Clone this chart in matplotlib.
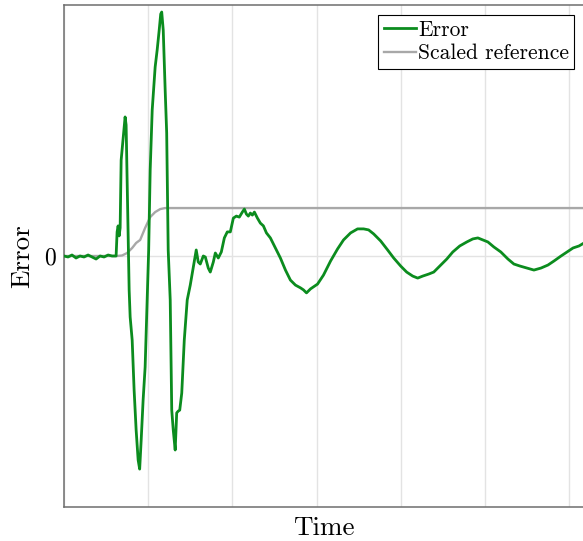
import numpy as np
import matplotlib
matplotlib.use("Agg")
import matplotlib.pyplot as plt

plt.rcParams['font.family'] = 'cmr10'
plt.rcParams['mathtext.fontset'] = 'cm'
plt.rcParams['axes.formatter.use_mathtext'] = True

# error signal, time in arbitrary units
t_err = [0.0, 0.048, 0.095, 0.143, 0.19, 0.238, 0.286, 0.333, 0.381, 0.429,
         0.476, 0.524, 0.571, 0.619, 0.631, 0.643, 0.655, 0.667, 0.679, 0.69,
         0.702, 0.726, 0.738, 0.75, 0.762, 0.774, 0.786, 0.81, 0.833, 0.857,
         0.881, 0.899, 0.917, 0.94, 0.964, 0.988, 1.006, 1.024, 1.048, 1.083,
         1.107, 1.131, 1.149, 1.161, 1.179, 1.202, 1.22, 1.238, 1.262, 1.28,
         1.298, 1.321, 1.339, 1.357, 1.375, 1.399, 1.429, 1.464, 1.5, 1.536,
         1.571, 1.595, 1.619, 1.655, 1.679, 1.714, 1.738, 1.774, 1.798, 1.833,
         1.869, 1.905, 1.94, 1.976, 2.012, 2.048, 2.083, 2.119, 2.143, 2.167,
         2.19, 2.214, 2.238, 2.262, 2.298, 2.333, 2.369, 2.405, 2.452, 2.512,
         2.571, 2.631, 2.69, 2.75, 2.81, 2.845, 2.881, 2.929, 3.012, 3.083,
         3.167, 3.25, 3.321, 3.405, 3.488, 3.56, 3.619, 3.679, 3.762, 3.845,
         3.917, 4.0, 4.071, 4.143, 4.202, 4.262, 4.333, 4.393, 4.476, 4.548,
         4.619, 4.702, 4.786, 4.857, 4.917, 4.976, 5.036, 5.107, 5.19, 5.274,
         5.345, 5.417, 5.5, 5.583, 5.667, 5.75, 5.821, 5.905, 5.976, 6.048,
         6.119, 6.179]
error = [0.0, -0.004, 0.004, -0.008, 0.0, -0.004, 0.004, -0.004, -0.012, 0.0,
         -0.004, 0.004, 0.0, 0.0, 0.096, 0.12, 0.08, 0.112, 0.382, 0.422,
         0.462, 0.554, 0.522, 0.303, 0.104, -0.135, -0.243, -0.335, -0.534, -0.693,
         -0.813, -0.849, -0.733, -0.574, -0.442, -0.175, 0.024, 0.343, 0.582, 0.753,
         0.821, 0.9, 0.964, 0.972, 0.9, 0.661, 0.49, 0.024, -0.175, -0.614,
         -0.693, -0.773, -0.625, -0.618, -0.614, -0.546, -0.335, -0.175, -0.116, -0.044,
         0.024, -0.024, -0.032, 0.0, -0.004, -0.048, -0.064, -0.024, 0.012, -0.008,
         0.016, 0.072, 0.096, 0.096, 0.151, 0.159, 0.155, 0.175, 0.187, 0.167,
         0.159, 0.171, 0.163, 0.175, 0.151, 0.131, 0.12, 0.092, 0.072, 0.032,
         -0.008, -0.056, -0.096, -0.116, -0.127, -0.135, -0.147, -0.131, -0.112, -0.076,
         -0.02, 0.028, 0.064, 0.092, 0.108, 0.108, 0.104, 0.088, 0.06, 0.024,
         -0.008, -0.04, -0.064, -0.08, -0.088, -0.08, -0.072, -0.064, -0.036, -0.012,
         0.016, 0.04, 0.056, 0.068, 0.072, 0.064, 0.056, 0.036, 0.016, -0.012,
         -0.032, -0.04, -0.048, -0.056, -0.048, -0.036, -0.02, 0.0, 0.016, 0.032,
         0.04, 0.052]

# scaled reference step
t_ref = [0.0, 0.627, 0.69, 0.75, 0.81, 0.857, 0.905, 0.964, 1.024, 1.083,
         1.143, 1.202, 6.2]
ref = [0.0, 0.0, 0.002, 0.012, 0.032, 0.052, 0.064, 0.112, 0.155, 0.175,
       0.187, 0.191, 0.191]

fig = plt.figure(figsize=(5.83, 5.41), dpi=100)
ax = fig.add_axes([64 / 583, 34 / 541, 1 - 64 / 583 + 0.002, 502 / 541])

ax.plot(t_err, error, color='#0b8c1e', lw=2.0, label='Error', zorder=3)
ax.plot(t_ref, ref, color='#a8a8a8', lw=1.7, label='Scaled reference', zorder=2)

ax.set_xlim(0, 6.18)
ax.set_ylim(-1, 1)
ax.set_xticks(np.arange(0, 7))
ax.set_xticklabels([])
ax.set_yticks([0])
ax.set_yticklabels(['0'])
ax.tick_params(length=0, labelsize=17, pad=6)
ax.grid(True, color='#e3e3e3', lw=1)
ax.set_axisbelow(True)
for s in ax.spines.values():
    s.set_color('#6e6e6e')
    s.set_linewidth(1.1)

ax.set_xlabel('Time', fontsize=19.5, labelpad=1)
ax.set_ylabel('Error', fontsize=19.5, labelpad=7)

leg = ax.legend(loc='upper right', fontsize=15.5, fancybox=False,
                edgecolor='black', framealpha=1, handlelength=1.5,
                handletextpad=0.1, borderpad=0.25, labelspacing=0.2,
                borderaxespad=0.45)
leg.get_frame().set_linewidth(0.8)

fig.savefig('out.png', dpi=100)
